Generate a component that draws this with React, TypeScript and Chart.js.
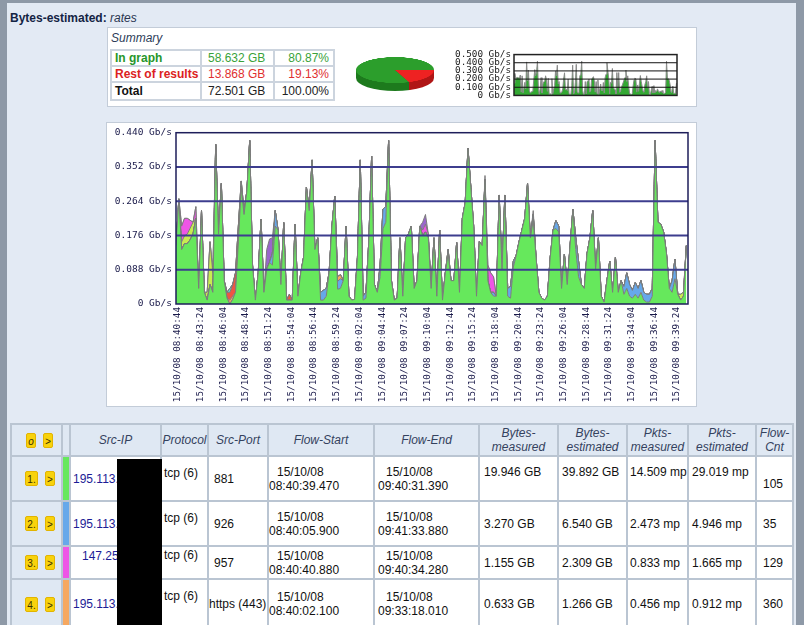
import React, { useEffect, useRef } from 'react';
import { Chart, registerables } from 'chart.js';

Chart.register(...registerables);

// ---------- DATA ----------
const sampleStartTime = '08:40:30';
const axisStartTime = '08:40:30';
const axisEndTime = '09:40:42';
const sampleStepSeconds = 20;

const xTickLabels = [
  '15/10/08 08:40:44', '15/10/08 08:43:24', '15/10/08 08:46:04', '15/10/08 08:48:44',
  '15/10/08 08:51:24', '15/10/08 08:54:04', '15/10/08 08:56:44', '15/10/08 08:59:24',
  '15/10/08 09:02:04', '15/10/08 09:04:44', '15/10/08 09:07:24', '15/10/08 09:10:04',
  '15/10/08 09:12:44', '15/10/08 09:15:24', '15/10/08 09:18:04', '15/10/08 09:20:44',
  '15/10/08 09:23:24', '15/10/08 09:26:04', '15/10/08 09:28:44', '15/10/08 09:31:24',
  '15/10/08 09:34:04', '15/10/08 09:36:44', '15/10/08 09:39:24',
];
const yTickValues = [0, 0.088, 0.176, 0.264, 0.352, 0.44];
const yTickLabels = ['0 Gb/s', '0.088 Gb/s', '0.176 Gb/s', '0.264 Gb/s', '0.352 Gb/s', '0.440 Gb/s'];

const sparkTickValues = [0, 0.1, 0.2, 0.3, 0.4, 0.5];
const sparkTickLabels = ['0 Gb/s', '0.100 Gb/s', '0.200 Gb/s', '0.300 Gb/s', '0.400 Gb/s', '0.500 Gb/s'];

// total rate (Gb/s), one value every 20 s
const totalRate = [
  0.15, 0.27, 0.2, 0.22, 0.22, 0.215, 0.21, 0.25, 0.04, 0.24,
  0.03, 0.03, 0.16, 0.08, 0.41, 0.18, 0.31, 0.06, 0.03, 0.04,
  0.05, 0.08, 0.2, 0.316, 0.24, 0.29, 0.42, 0.1, 0.01, 0.08,
  0.218, 0.03, 0.14, 0.167, 0.17, 0.24, 0.19, 0.05, 0.209, 0.01,
  0.025, 0.01, 0.205, 0.02, 0.08, 0.12, 0.3, 0.24, 0.37, 0.14,
  0.17, 0.03, 0.035, 0.04, 0.08, 0.2, 0.277, 0.07, 0.075, 0.06,
  0.2, 0.02, 0.01, 0.012, 0.12, 0.37, 0.02, 0.03, 0.16, 0.38,
  0.05, 0.03, 0.1, 0.244, 0.25, 0.42, 0.06, 0.01, 0.015, 0.17,
  0.02, 0.17, 0.18, 0.2, 0.04, 0.06, 0.2, 0.21, 0.23, 0.18,
  0.04, 0.17, 0.02, 0.19, 0.01, 0.08, 0.14, 0.06, 0.06, 0.158,
  0.03, 0.22, 0.26, 0.4, 0.3, 0.2, 0.02, 0.16, 0.15, 0.33,
  0.1, 0.08, 0.07, 0.02, 0.28, 0.09, 0.28, 0.04, 0.045, 0.11,
  0.125, 0.16, 0.19, 0.22, 0.31, 0.17, 0.24, 0.12, 0.03, 0.015,
  0.01, 0.02, 0.12, 0.19, 0.214, 0.2, 0.04, 0.128, 0.05, 0.15,
  0.243, 0.17, 0.11, 0.05, 0.04, 0.13, 0.17, 0.24, 0.09, 0.17,
  0.02, 0.005, 0.06, 0.11, 0.03, 0.12, 0.03, 0.06, 0.045, 0.08,
  0.05, 0.035, 0.055, 0.04, 0.06, 0.03, 0.025, 0.025, 0.04, 0.42,
  0.21, 0.205, 0.185, 0.13, 0.04, 0.06, 0.115, 0.025, 0.025, 0.03, 0.15,
];

// minor flows: [sample index, Gb/s]
const blueRate: [number, number][] = [
  [34, 0.03], [35, 0.04], [51, 0.02], [52, 0.025], [53, 0.02], [57, 0.02], [58, 0.025],
  [66, 0.01], [67, 0.015], [72, 0.03], [73, 0.05], [74, 0.04], [96, 0.01], [112, 0.01],
  [117, 0.02], [118, 0.03], [119, 0.015], [126, 0.015], [134, 0.02], [135, 0.015],
  [141, 0.03], [142, 0.04], [158, 0.02], [159, 0.04], [160, 0.03], [161, 0.02], [162, 0.03],
  [163, 0.025], [164, 0.03], [165, 0.02], [166, 0.02], [167, 0.02], [168, 0.02],
  [175, 0.03], [176, 0.05],
];
const orangeRate: [number, number][] = [[19, 0.01], [20, 0.008], [57, 0.012], [58, 0.01]];
const redRate: [number, number][] = [[18, 0.015], [19, 0.02], [20, 0.03], [21, 0.05], [22, 0.04], [40, 0.015]];
const cyanRate: [number, number][] = [[19, 0.01], [23, 0.015], [24, 0.01]];
const yellowRate: [number, number][] = [
  [2, 0.02], [3, 0.02], [4, 0.025], [5, 0.03], [6, 0.03], [11, 0.02], [12, 0.11], [13, 0.05],
  [178, 0.015], [179, 0.01],
];
const magentaRate: [number, number][] = [
  [2, 0.04], [3, 0.045], [4, 0.04], [5, 0.02], [7, 0.03], [87, 0.015], [88, 0.02], [89, 0.01],
  [110, 0.04], [111, 0.05], [112, 0.04],
];
const purpleRate: [number, number][] = [[32, 0.05], [33, 0.06], [34, 0.04], [87, 0.02], [88, 0.025], [109, 0.01], [126, 0.01]];

const pieLabels = ['In graph', 'Rest of results'];
const pieValues = [80.87, 19.13];

const summaryRows = [
  { label: 'In graph', bytes: '58.632 GB', pct: '80.87%', color: '#27962a', valColor: '#3aa23a' },
  { label: 'Rest of results', bytes: '13.868 GB', pct: '19.13%', color: '#dc2222', valColor: '#e03030' },
  { label: 'Total', bytes: '72.501 GB', pct: '100.00%', color: '#111111', valColor: '#222222' },
];

const rowColors = ['#66e85c', '#66a8ea', '#ee55e6', '#f6a860'];
const rowSrcIp = ['195.113.', '195.113.', '147.251.', '195.113.'];
const rowProtocol = ['tcp (6)', 'tcp (6)', 'tcp (6)', 'tcp (6)'];
const rowSrcPort = ['881', '926', '957', 'https (443)'];
const rowFlowStart = ['08:40:39.470', '08:40:05.900', '08:40:40.880', '08:40:02.100'];
const rowFlowEnd = ['09:40:31.390', '09:41:33.880', '09:40:34.280', '09:33:18.010'];
const rowDate = '15/10/08';
const rowBytesMeasured = ['19.946 GB', '3.270 GB', '1.155 GB', '0.633 GB'];
const rowBytesEstimated = ['39.892 GB', '6.540 GB', '2.309 GB', '1.266 GB'];
const rowPktsMeasured = ['14.509 mp', '2.473 mp', '0.833 mp', '0.456 mp'];
const rowPktsEstimated = ['29.019 mp', '4.946 mp', '1.665 mp', '0.912 mp'];
const rowFlowCnt = ['105', '35', '129', '360'];

// ---------- helpers ----------
const toSec = (t: string) => {
  const [h, m, s] = t.split(':').map(Number);
  return h * 3600 + m * 60 + s;
};
const dense = (pairs: [number, number][]) => {
  const arr = totalRate.map(() => 0);
  pairs.forEach(([i, v]) => { arr[i] = v; });
  return arr;
};

const gridOnTop = {
  id: 'gridOnTop',
  afterDatasetsDraw(chart: any, _args: any, opts: any) {
    const { ctx, chartArea: a } = chart;
    const y = chart.scales.y;
    ctx.save();
    ctx.strokeStyle = opts.color;
    ctx.lineWidth = opts.width;
    opts.values.forEach((v: number) => {
      const py = y.getPixelForValue(v);
      ctx.beginPath();
      ctx.moveTo(a.left, py);
      ctx.lineTo(a.right, py);
      ctx.stroke();
    });
    ctx.strokeStyle = opts.frameColor;
    ctx.lineWidth = opts.frameWidth;
    ctx.strokeRect(a.left, a.top, a.right - a.left, a.bottom - a.top);
    ctx.restore();
  },
};

const MONO = "'DejaVu Sans Mono', monospace";
const SANS = "'Liberation Sans', Arial, sans-serif";

const Btn = ({ t, w }: { t: string; w: number }) => (
  <span style={{
    display: 'inline-block', width: w, height: 15, lineHeight: '15px', textAlign: 'center',
    background: '#f8d20c', border: '1px solid #e2b400', borderRadius: 2, fontSize: 10,
    color: '#3a3000', marginRight: 7, boxSizing: 'border-box',
  }}>{t}</span>
);

export default function App() {
  const mainRef = useRef<HTMLCanvasElement>(null);
  const sparkRef = useRef<HTMLCanvasElement>(null);
  const pieRef = useRef<HTMLCanvasElement>(null);

  useEffect(() => {
    const charts: Chart[] = [];
    const t0 = toSec(sampleStartTime);
    const xs = totalRate.map((_, i) => t0 + i * sampleStepSeconds);

    const minor = [
      { c: '#66a8ea', v: dense(blueRate) },
      { c: '#f6a860', v: dense(orangeRate) },
      { c: '#ee5544', v: dense(redRate) },
      { c: '#5fdcd8', v: dense(cyanRate) },
      { c: '#c8ec50', v: dense(yellowRate) },
      { c: '#ee55e6', v: dense(magentaRate) },
      { c: '#9a66cc', v: dense(purpleRate) },
    ];
    const green = totalRate.map((t, i) => Math.max(0, t - minor.reduce((s, m) => s + m.v[i], 0)));
    const series = [{ c: '#66e85c', v: green }, ...minor];

    const datasets = series.map((s, k) => ({
      data: s.v.map((y, i) => ({ x: xs[i], y })),
      backgroundColor: s.c,
      borderColor: '#7c7c7c',
      borderWidth: 1,
      pointRadius: 0,
      tension: 0,
      fill: k === 0 ? 'origin' : '-1',
    }));

    if (mainRef.current) {
      charts.push(new Chart(mainRef.current, {
        type: 'line',
        data: { datasets } as any,
        plugins: [gridOnTop as any],
        options: {
          animation: false,
          responsive: false,
          devicePixelRatio: 1,
          layout: { padding: { top: 8, right: 8, left: 0, bottom: 0 } },
          plugins: {
            legend: { display: false },
            tooltip: { enabled: false },
            gridOnTop: { values: yTickValues.slice(1, -1), color: '#3d3d8e', width: 2, frameColor: '#1e1e5a', frameWidth: 1.5 },
          } as any,
          scales: {
            x: {
              type: 'linear',
              min: toSec(axisStartTime),
              max: toSec(axisEndTime),
              grid: { display: false, drawTicks: false },
              border: { display: false },
              afterBuildTicks: (s: any) => { s.ticks = xTickLabels.map((l) => ({ value: toSec(l.split(' ')[1]) })); },
              afterFit: (s: any) => { s.height = 102; },
              ticks: {
                autoSkip: false, maxRotation: 90, minRotation: 90, padding: 3,
                font: { family: MONO, size: 9.3 }, color: '#1a1a4a',
                callback: (_v: any, i: number) => xTickLabels[i],
              },
            },
            y: {
              stacked: true,
              min: 0,
              max: 0.44,
              grid: { display: false, drawTicks: false },
              border: { display: false },
              afterBuildTicks: (s: any) => { s.ticks = yTickValues.map((v) => ({ value: v })); },
              afterFit: (s: any) => { s.width = 69; },
              ticks: {
                padding: 4, font: { family: MONO, size: 9.5 }, color: '#1a1a4a',
                callback: (_v: any, i: number) => yTickLabels[i],
              },
            },
          },
        } as any,
      }));
    }

    if (sparkRef.current) {
      charts.push(new Chart(sparkRef.current, {
        type: 'line',
        data: {
          datasets: [{
            data: totalRate.map((y, i) => ({ x: xs[i], y })),
            backgroundColor: '#33a833', borderColor: '#8a8a8a', borderWidth: 1,
            pointRadius: 0, tension: 0, fill: 'origin',
          }],
        } as any,
        plugins: [gridOnTop as any],
        options: {
          animation: false, responsive: false, devicePixelRatio: 1,
          layout: { padding: { top: 6, right: 3, left: 0, bottom: 5 } },
          plugins: {
            legend: { display: false }, tooltip: { enabled: false },
            gridOnTop: { values: sparkTickValues.slice(1, -1), color: '#111111', width: 1, frameColor: '#222222', frameWidth: 1.5 },
          } as any,
          scales: {
            x: { type: 'linear', display: false, min: toSec(axisStartTime), max: toSec(axisEndTime) },
            y: {
              min: 0, max: 0.5,
              grid: { display: false, drawTicks: false }, border: { display: false },
              afterBuildTicks: (s: any) => { s.ticks = sparkTickValues.map((v) => ({ value: v })); },
              afterFit: (s: any) => { s.width = 66; },
              ticks: {
                autoSkip: false, padding: 3, font: { family: MONO, size: 9.3 }, color: '#222222',
                callback: (_v: any, i: number) => sparkTickLabels[i],
              },
            },
          },
        } as any,
      }));
    }

    if (pieRef.current) {
      const inGraph = pieValues[0];
      charts.push(new Chart(pieRef.current, {
        type: 'pie',
        data: { labels: pieLabels, datasets: [{ data: pieValues, backgroundColor: ['#2c9e2c', '#ee2222'], borderWidth: 0 }] },
        options: {
          animation: false, responsive: false, devicePixelRatio: 1,
          rotation: 90 - (360 * inGraph) / 100,
          layout: { padding: 0 },
          plugins: { legend: { display: false }, tooltip: { enabled: false } },
        } as any,
      }));
    }

    return () => charts.forEach((c) => c.destroy());
  }, []);

  const redStart = 50 + 50 * Math.cos((2 * Math.PI * pieValues[1]) / 100);

  const th: React.CSSProperties = {
    border: '2px solid #bac5d2', background: '#dfe8f3', fontStyle: 'italic', fontWeight: 'normal',
    color: '#34425e', fontSize: 12, lineHeight: '14px', padding: 0, textAlign: 'center', whiteSpace: 'nowrap',
  };
  const td: React.CSSProperties = {
    border: '2px solid #bac5d2', background: '#ffffff', fontSize: 12, color: '#111',
    padding: '0 0 0 3px', verticalAlign: 'middle', textAlign: 'left', lineHeight: '14px', whiteSpace: 'nowrap',
    overflow: 'hidden',
  };
  const rowHeights = [45, 45, 33, 50];
  const colWidths = [51, 8, 91, 47, 60, 106, 105, 79, 69, 61, 68, 37];

  return (
    <div style={{ position: 'absolute', left: 0, top: 0, width: 804, height: 625, overflow: 'hidden', background: '#e3eaf4', fontFamily: SANS }}>
      <div style={{ position: 'absolute', left: 0, top: 0, width: 804, height: 3, background: '#8e99a7' }} />
      <div style={{ position: 'absolute', left: 0, top: 0, width: 7, height: 625, background: '#8e99a7' }} />
      <div style={{ position: 'absolute', left: 796, top: 0, width: 8, height: 625, background: '#8e99a7' }} />

      <div style={{ position: 'absolute', left: 10, top: 11, fontSize: 12, color: '#142444', whiteSpace: 'nowrap' }}>
        <b>Bytes-estimated:</b> <i style={{ color: '#2a3650' }}>rates</i>
      </div>

      {/* Summary box */}
      <div style={{ position: 'absolute', left: 107, top: 27, width: 588, height: 78, background: '#fff', border: '1px solid #c3ccd8' }} />
      <div style={{ position: 'absolute', left: 111, top: 31, fontSize: 12, fontStyle: 'italic', color: '#2c3c58' }}>Summary</div>
      <table style={{ position: 'absolute', left: 110, top: 49, borderCollapse: 'collapse', tableLayout: 'fixed', width: 223, fontSize: 12 }}>
        <colgroup><col style={{ width: 90 }} /><col style={{ width: 73 }} /><col style={{ width: 60 }} /></colgroup>
        <tbody>
          {summaryRows.map((r, i) => (
            <tr key={i} style={{ height: i === 2 ? 18 : 16 }}>
              <td style={{ border: '2px solid #ccd4de', padding: '0 0 0 3px', fontWeight: 'bold', color: r.color, whiteSpace: 'nowrap' }}>{r.label}</td>
              <td style={{ border: '2px solid #ccd4de', padding: '0 0 0 6px', color: r.valColor, whiteSpace: 'nowrap' }}>{r.bytes}</td>
              <td style={{ border: '2px solid #ccd4de', padding: '0 4px 0 0', textAlign: 'right', color: r.valColor, whiteSpace: 'nowrap' }}>{r.pct}</td>
            </tr>
          ))}
        </tbody>
      </table>

      {/* 3D pie */}
      <div style={{ position: 'absolute', left: 356, top: 70, width: 78, height: 8, background: `linear-gradient(to right, #1d7a1d 0%, #1d7a1d ${redStart}%, #b01616 ${redStart}%, #b01616 100%)` }} />
      <div style={{ position: 'absolute', left: 356, top: 65, width: 78, height: 26, borderRadius: '50%', background: `linear-gradient(to right, #1d7a1d 0%, #1d7a1d ${redStart}%, #b01616 ${redStart}%, #b01616 100%)` }} />
      <div style={{ position: 'absolute', left: 356, top: 57, width: 78, height: 78, transform: 'scaleY(0.3333)', transformOrigin: '0 0' }}>
        <canvas ref={pieRef} width={78} height={78} />
      </div>

      {/* sparkline */}
      <div style={{ position: 'absolute', left: 448, top: 46 }}>
        <canvas ref={sparkRef} width={232} height={58} />
      </div>

      {/* main chart */}
      <div style={{ position: 'absolute', left: 106, top: 122, width: 589, height: 283, background: '#fff', border: '1px solid #c3ccd8' }} />
      <div style={{ position: 'absolute', left: 107, top: 123 }}>
        <canvas ref={mainRef} width={589} height={283} />
      </div>

      {/* flows table */}
      <table style={{ position: 'absolute', left: 10, top: 423, borderCollapse: 'collapse', tableLayout: 'fixed', width: 782, fontFamily: SANS }}>
        <colgroup>{colWidths.map((w, i) => <col key={i} style={{ width: w }} />)}</colgroup>
        <thead>
          <tr style={{ height: 32 }}>
            <th style={{ ...th, textAlign: 'left', paddingLeft: 14 }}><Btn t="o" w={10} /><Btn t=">" w={10} /></th>
            <th style={th}></th>
            <th style={th}>Src-IP</th>
            <th style={th}>Protocol</th>
            <th style={th}>Src-Port</th>
            <th style={th}>Flow-Start</th>
            <th style={th}>Flow-End</th>
            <th style={th}>Bytes-<br />measured</th>
            <th style={th}>Bytes-<br />estimated</th>
            <th style={th}>Pkts-<br />measured</th>
            <th style={th}>Pkts-<br />estimated</th>
            <th style={th}>Flow-<br />Cnt</th>
          </tr>
        </thead>
        <tbody>
          {rowSrcIp.map((ip, i) => (
            <tr key={i} style={{ height: rowHeights[i] }}>
              <td style={{ ...td, background: '#dfe8f3', paddingLeft: 13 }}><Btn t={`${i + 1}.`} w={13} /><Btn t=">" w={10} /></td>
              <td style={{ ...td, background: rowColors[i], padding: 0 }}></td>
              <td style={{ ...td, color: '#1c1c96', verticalAlign: i === 2 ? 'top' : 'middle', paddingTop: i === 2 ? 2 : 0, paddingLeft: i === 2 ? 11 : 2 }}>{ip}</td>
              <td style={{ ...td, verticalAlign: 'top', paddingTop: i === 2 ? 1 : 9, paddingLeft: 2 }}>{rowProtocol[i]}</td>
              <td style={{ ...td, paddingLeft: i === 3 ? 0 : 5 }}>{rowSrcPort[i]}</td>
              <td style={{ ...td, paddingLeft: 0 }}><span style={{ paddingLeft: 8 }}>{rowDate}</span><br />{rowFlowStart[i]}</td>
              <td style={{ ...td, paddingLeft: 3 }}><span style={{ paddingLeft: 8 }}>{rowDate}</span><br />{rowFlowEnd[i]}</td>
              <td style={{ ...td, paddingLeft: 4, verticalAlign: i === 0 ? 'top' : 'middle', paddingTop: i === 0 ? 8 : 0 }}>{rowBytesMeasured[i]}</td>
              <td style={{ ...td, paddingLeft: 3, verticalAlign: i === 0 ? 'top' : 'middle', paddingTop: i === 0 ? 8 : 0 }}>{rowBytesEstimated[i]}</td>
              <td style={{ ...td, paddingLeft: 2, verticalAlign: i === 0 ? 'top' : 'middle', paddingTop: i === 0 ? 8 : 0 }}>{rowPktsMeasured[i]}</td>
              <td style={{ ...td, paddingLeft: 3, verticalAlign: i === 0 ? 'top' : 'middle', paddingTop: i === 0 ? 8 : 0 }}>{rowPktsEstimated[i]}</td>
              <td style={{ ...td, paddingLeft: 6, verticalAlign: i === 0 ? 'top' : 'middle', paddingTop: i === 0 ? 20 : 0 }}>{rowFlowCnt[i]}</td>
            </tr>
          ))}
        </tbody>
      </table>
      <div style={{ position: 'absolute', left: 117, top: 459, width: 45, height: 170, background: '#000' }} />
    </div>
  );
}
